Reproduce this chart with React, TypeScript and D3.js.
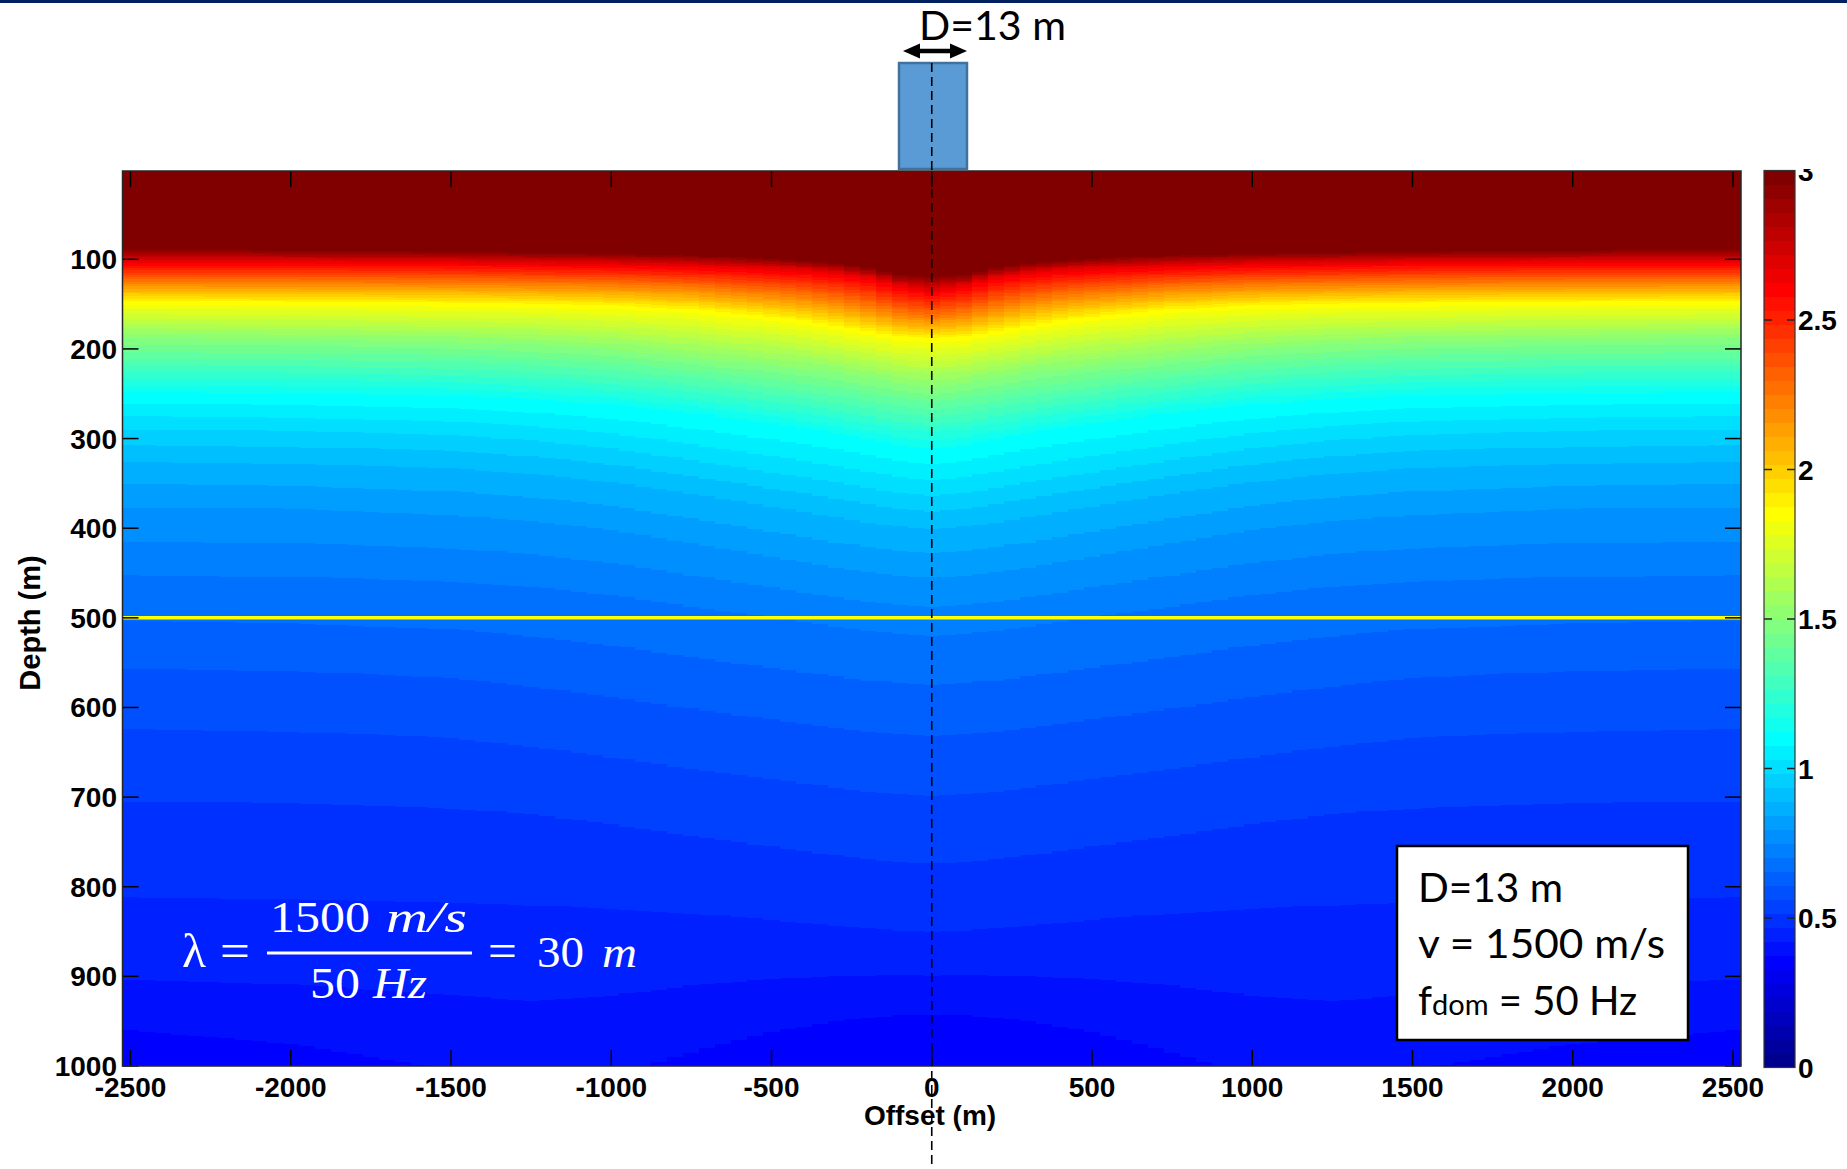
import React, { useMemo } from 'react';
import * as d3 from 'd3';

// ---------- data ----------
// offsets (m) where contour depths were read (field is symmetric about 0)
const OFFSET_NODES = [0, 100, 200, 300, 400, 500, 750, 1000, 1250, 1500, 2000, 2500];
// field values of the contour levels (colour-bar units)
const LEVEL_VALUES = [4.0, 2.95, 2.65, 2.25, 1.85, 1.5, 1.125, 1.0, 0.9, 0.8, 0.7, 0.6, 0.55, 0.5, 0.45, 0.4, 0.375, 0.35];
// depth (m) of each contour level at each offset node
const LEVEL_DEPTHS = [
  [0, 0, 0, 0, 0, 0, 0, 0, 0, 0, 0, 0],
  [120, 118, 110, 105, 102, 100, 96, 94, 93, 92, 91, 90],
  [136, 130, 121, 116, 113, 111, 108, 106, 105, 104, 103, 103],
  [164, 160, 152, 145, 140, 137, 131, 128, 127, 126, 125, 125],
  [190, 188, 182, 176, 170, 166, 157, 153, 151, 150, 149, 148],
  [242, 238, 232, 226, 222, 218, 209, 200, 195, 192, 189, 188],
  [310, 307, 300, 294, 288, 283, 271, 262, 256, 252, 249, 248],
  [358, 355, 349, 343, 337, 332, 318, 305, 296, 290, 286, 284],
  [396, 393, 388, 382, 376, 370, 356, 343, 334, 328, 323, 321],
  [453, 451, 447, 442, 436, 430, 415, 400, 390, 383, 376, 374],
  [522, 520, 517, 512, 507, 502, 490, 477, 468, 462, 457, 455],
  [643, 641, 638, 634, 630, 625, 613, 600, 588, 578, 570, 567],
  [717, 715, 712, 708, 703, 698, 687, 674, 662, 652, 646, 643],
  [800, 798, 795, 791, 786, 781, 769, 756, 745, 740, 735, 733],
  [880, 879, 877, 875, 873, 870, 866, 866, 866, 864, 862, 860],
  [915, 915, 917, 920, 924, 928, 945, 965, 975, 965, 945, 938],
  [943, 943, 946, 950, 956, 962, 985, 1010, 1020, 1005, 975, 960],
  [975, 976, 980, 985, 992, 1000, 1030, 1060, 1070, 1050, 1010, 995],
];
const GRID_STEP_X = 50; // model grid column width (m)
const X_TICKS = [-2500, -2000, -1500, -1000, -500, 0, 500, 1000, 1500, 2000, 2500];
const Y_TICKS = [100, 200, 300, 400, 500, 600, 700, 800, 900, 1000];
const CB_TICKS = [0, 0.5, 1, 1.5, 2, 2.5, 3];
const CB_LABELS = ['0', '0.5', '1', '1.5', '2', '2.5', '3'];
const MARKER_DEPTH = 500;
const X_DOMAIN = [-2525, 2525];
const Y_DOMAIN = [1.5, 1000];
const C_DOMAIN = [0, 3];

// ---------- layout ----------
const W = 1847;
const H = 1169;
const PL = 122.5, PR = 1741, PT = 171, PB = 1066;
const CBL = 1764, CBR = 1795, CBT = 170.5, CBB = 1067.5;

function jetColormap(n: number): string[] {
  const m = Math.ceil(n / 4);
  const u: number[] = [];
  for (let i = 1; i <= m; i++) u.push(i / m);
  for (let i = 0; i < m - 1; i++) u.push(1);
  for (let i = m; i >= 1; i--) u.push(i / m);
  const off = Math.ceil(m / 2) - (n % 4 === 1 ? 1 : 0);
  const J = Array.from({ length: n }, () => [0, 0, 0]);
  const gIdx = u.map((_, k) => off + k + 1);
  const g = gIdx.filter((i) => i <= n);
  const r = gIdx.map((i) => i + m).filter((i) => i <= n);
  const b = gIdx.map((i) => i - m).filter((i) => i >= 1);
  r.forEach((i, k) => (J[i - 1][0] = u[k]));
  g.forEach((i, k) => (J[i - 1][1] = u[k]));
  b.forEach((i, k) => (J[i - 1][2] = u[u.length - b.length + k]));
  return J.map(([rr, gg, bb]) => d3.rgb(Math.round(rr * 255), Math.round(gg * 255), Math.round(bb * 255)).formatHex());
}

const JET = jetColormap(64);

export default function App() {
  const x = d3.scaleLinear().domain(X_DOMAIN).range([PL, PR]);
  const y = d3.scaleLinear().domain(Y_DOMAIN).range([PT, PB]);
  const color = d3.scaleQuantize<string>().domain(C_DOMAIN).range(JET);
  const cbY = d3.scaleLinear().domain(C_DOMAIN).range([CBB, CBT]);

  const cells = useMemo(() => {
    const levelScales = LEVEL_DEPTHS.map((row) => d3.scaleLinear().domain(OFFSET_NODES).range(row).clamp(true));
    const out: { x0: number; x1: number; y0: number; y1: number; c: string }[] = [];
    const nHalf = Math.round(2500 / GRID_STEP_X);
    for (let k = -nHalf; k <= nHalf; k++) {
      const xc = k * GRID_STEP_X;
      const depths = levelScales.map((s) => s(Math.abs(xc)));
      const v = d3.scaleLinear().domain(depths).range(LEVEL_VALUES).clamp(true);
      let runStart = Y_DOMAIN[0];
      let runColor = color(v(Y_DOMAIN[0]));
      for (let z = Y_DOMAIN[0] + 1; z <= Y_DOMAIN[1] + 0.01; z += 1) {
        const c = color(v(z));
        if (c !== runColor) {
          out.push({ x0: xc - GRID_STEP_X / 2, x1: xc + GRID_STEP_X / 2, y0: runStart, y1: z - 0.5, c: runColor });
          runStart = z - 0.5;
          runColor = c;
        }
      }
      out.push({ x0: xc - GRID_STEP_X / 2, x1: xc + GRID_STEP_X / 2, y0: runStart, y1: Y_DOMAIN[1], c: runColor });
    }
    return out;
  }, []);

  const cbBand = (C_DOMAIN[1] - C_DOMAIN[0]) / JET.length;
  const x0px = x(0);
  const tickFont = { fontFamily: '"Liberation Sans", Arial, sans-serif', fontWeight: 700, fontSize: 28 } as const;
  const calibri = { fontFamily: 'Lato, "Open Sans", sans-serif', fontSize: 40 } as const;
  const math = { fontFamily: '"Liberation Serif", "DejaVu Serif", serif', fontSize: 45, fill: '#ffffff' } as const;

  return (
    <svg width={W} height={H} style={{ position: 'absolute', left: 0, top: 0, display: 'block', background: '#ffffff' }}>
      <defs>
        <clipPath id="plotClip">
          <rect x={PL} y={PT} width={PR - PL} height={PB - PT} />
        </clipPath>
        <clipPath id="cbLabelClip">
          <rect x={CBR} y={169} width={W - CBR} height={H - 169} />
        </clipPath>
      </defs>
      <rect x={0} y={0} width={W} height={3} fill="#002060" />

      {/* heat field */}
      <g clipPath="url(#plotClip)" shapeRendering="crispEdges">
        {cells.map((c, i) => (
          <rect key={i} x={x(c.x0)} y={y(c.y0)} width={x(c.x1) - x(c.x0) + 0.6} height={y(c.y1) - y(c.y0) + 0.6} fill={c.c} />
        ))}
      </g>

      {/* marker depth line */}
      <line x1={x(X_DOMAIN[0])} x2={x(X_DOMAIN[1])} y1={y(MARKER_DEPTH)} y2={y(MARKER_DEPTH)} stroke="#ffff00" strokeWidth={3.5} />

      {/* ticks */}
      <g stroke="#000" strokeWidth={1.5}>
        {X_TICKS.map((t) => (
          <g key={'xt' + t}>
            <line x1={x(t)} x2={x(t)} y1={PB} y2={PB - 16} />
            <line x1={x(t)} x2={x(t)} y1={PT} y2={PT + 16} />
          </g>
        ))}
        {Y_TICKS.map((t) => (
          <g key={'yt' + t}>
            <line x1={PL} x2={PL + 16} y1={y(t)} y2={y(t)} />
            <line x1={PR} x2={PR - 16} y1={y(t)} y2={y(t)} />
          </g>
        ))}
      </g>
      <rect x={PL} y={PT} width={PR - PL} height={PB - PT} fill="none" stroke="#262626" strokeWidth={1.5} />

      {/* tick labels */}
      <g {...tickFont} fill="#000">
        {X_TICKS.map((t) => (
          <text key={'xl' + t} x={x(t)} y={1097} textAnchor="middle">{String(t)}</text>
        ))}
        {Y_TICKS.map((t) => (
          <text key={'yl' + t} x={117} y={y(t) + 10} textAnchor="end">{String(t)}</text>
        ))}
        <text x={930} y={1125} textAnchor="middle">Offset (m)</text>
        <text transform={`translate(40,623) rotate(-90)`} textAnchor="middle" fontSize={29}>Depth (m)</text>
      </g>

      {/* colour bar */}
      <g shapeRendering="crispEdges">
        {JET.map((c, i) => (
          <rect key={'cb' + i} x={CBL} width={CBR - CBL} y={cbY(C_DOMAIN[0] + (i + 1) * cbBand)} height={cbY(C_DOMAIN[0] + i * cbBand) - cbY(C_DOMAIN[0] + (i + 1) * cbBand) + 0.5} fill={c} />
        ))}
      </g>
      <g stroke="#222" strokeWidth={1.5}>
        {CB_TICKS.slice(1, -1).map((t) => (
          <g key={'cbt' + t}>
            <line x1={CBL} x2={CBL + 8} y1={cbY(t)} y2={cbY(t)} />
            <line x1={CBR} x2={CBR - 8} y1={cbY(t)} y2={cbY(t)} />
          </g>
        ))}
      </g>
      <rect x={CBL} y={CBT} width={CBR - CBL} height={CBB - CBT} fill="none" stroke="#333" strokeWidth={1.2} />
      <g {...tickFont} fill="#000" clipPath="url(#cbLabelClip)">
        {CB_TICKS.map((t, i) => (
          <text key={'cbl' + t} x={1798} y={cbY(t) + 10}>{CB_LABELS[i]}</text>
        ))}
      </g>

      {/* source block and D label */}
      <rect x={899} y={63} width={68} height={106} fill="#5b9bd5" stroke="#41719c" strokeWidth={2.5} />
      <line x1={x0px} x2={x0px} y1={63} y2={H} stroke="#000" strokeWidth={1.6} strokeDasharray="9,5" />
      <line x1={916} x2={953} y1={51} y2={51} stroke="#000" strokeWidth={4.5} />
      <polygon points="903,51 920,43.5 920,58.5" fill="#000" />
      <polygon points="967,51 950,43.5 950,58.5" fill="#000" />
      <text x={919} y={40} {...calibri} fill="#000" textLength={147} lengthAdjust="spacingAndGlyphs">D=13 m</text>

      {/* wavelength formula */}
      <g {...math}>
        <text x={182} y={967} textLength={24} lengthAdjust="spacingAndGlyphs" fontSize={48}>λ</text>
        <text x={220} y={967} textLength={30} lengthAdjust="spacingAndGlyphs" fontSize={48}>=</text>
        <text x={270} y={932} textLength={100} lengthAdjust="spacingAndGlyphs">1500</text>
        <text x={386} y={932} textLength={81} lengthAdjust="spacingAndGlyphs" fontStyle="italic">m/s</text>
        <text x={310} y={998} textLength={50} lengthAdjust="spacingAndGlyphs">50</text>
        <text x={373} y={998} textLength={54} lengthAdjust="spacingAndGlyphs" fontStyle="italic">Hz</text>
        <text x={488} y={967} textLength={29} lengthAdjust="spacingAndGlyphs" fontSize={48}>=</text>
        <text x={537} y={967} textLength={47} lengthAdjust="spacingAndGlyphs">30</text>
        <text x={602} y={967} textLength={35} lengthAdjust="spacingAndGlyphs" fontStyle="italic">m</text>
      </g>
      <line x1={267} x2={472} y1={953} y2={953} stroke="#fff" strokeWidth={3} />

      {/* parameter box */}
      <rect x={1397} y={846} width={291} height={194} fill="#fff" stroke="#000" strokeWidth={2.5} />
      <g {...calibri} fill="#000">
        <text x={1418} y={902} textLength={145} lengthAdjust="spacingAndGlyphs">D=13 m</text>
        <text x={1418} y={958} textLength={247} lengthAdjust="spacingAndGlyphs">v = 1500 m/s</text>
        <text x={1418} y={1015}>
          <tspan>f</tspan>
          <tspan fontSize={29}>dom</tspan>
          <tspan> = 50 Hz</tspan>
        </text>
      </g>
    </svg>
  );
}
